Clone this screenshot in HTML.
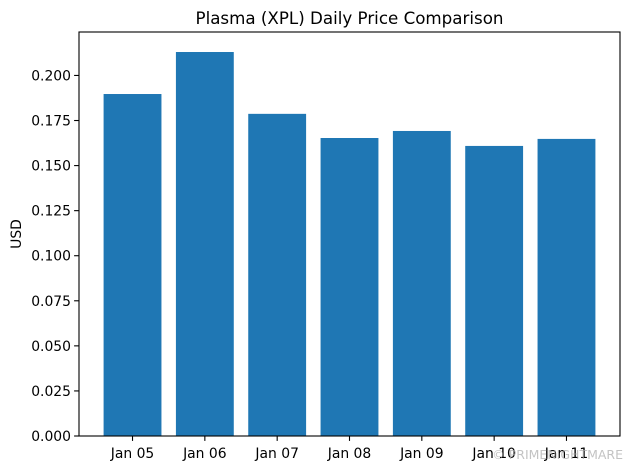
<!DOCTYPE html>
<html><head><meta charset="utf-8"><style>
body{margin:0;background:#fff;}
svg{display:block;font-family:"DejaVu Sans","Liberation Sans",sans-serif;}
</style></head><body>
<svg id="chart" width="630" height="470"></svg>
<script>
const categories=["Jan 05","Jan 06","Jan 07","Jan 08","Jan 09","Jan 10","Jan 11"];
const prices=[0.1897,0.2130,0.1787,0.1653,0.1692,0.1609,0.1648];
const yTicks=[0,0.025,0.05,0.075,0.1,0.125,0.15,0.175,0.2];
const yTickLabels=["0.000","0.025","0.050","0.075","0.100","0.125","0.150","0.175","0.200"];
const NS="http://www.w3.org/2000/svg";
const svg=document.getElementById('chart');
const L=79,R=620,T=32,B=436,yMax=0.2241,xMin=-0.74,xMax=categories.length-1+0.74;
const xs=i=>L+(i-xMin)/(xMax-xMin)*(R-L);
const ys=v=>B-v/yMax*(B-T);
function el(t,a,txt){const e=document.createElementNS(NS,t);for(const k in a)e.setAttribute(k,a[k]);if(txt!==undefined)e.textContent=txt;svg.appendChild(e);return e;}
const bw=0.8*(R-L)/(xMax-xMin);
prices.forEach((v,i)=>{
 const r=el('rect',{x:xs(i)-bw/2,y:ys(v),width:bw,height:B-ys(v),fill:'#1f77b4'});
 
 
 el('line',{x1:xs(i),x2:xs(i),y1:B,y2:B+4.9,stroke:'#000','stroke-width':1.1});
 const t=el('text',{x:xs(i),y:B+22,'font-size':13.9,'text-anchor':'middle',fill:'#000'},categories[i]);
 
 
});
yTicks.forEach((v,i)=>{
 el('line',{x1:L-4.9,x2:L,y1:ys(v),y2:ys(v),stroke:'#000','stroke-width':1.1});
 const t=el('text',{x:L-8,y:ys(v)+5,'font-size':13.9,'text-anchor':'end',fill:'#000'},yTickLabels[i]);
 
 
});
const f=el('rect',{x:L,y:T,width:R-L,height:B-T,fill:'none',stroke:'#000','stroke-width':1.1});


const ti=el('text',{x:(L+R)/2,y:T-8,'font-size':16.7,'text-anchor':'middle',fill:'#000'},'Plasma (XPL) Daily Price Comparison');


const yl=el('text',{x:21,y:(T+B)/2,'font-size':13.9,'text-anchor':'middle',fill:'#000',transform:'rotate(-90 21 '+((T+B)/2)+')'},'USD');


const w=el('text',{x:623,y:459,'font-size':12.5,'text-anchor':'end',fill:'#aaa','fill-opacity':0.7},'© PRIMENIGHTMARE');


</script>
</body></html>
